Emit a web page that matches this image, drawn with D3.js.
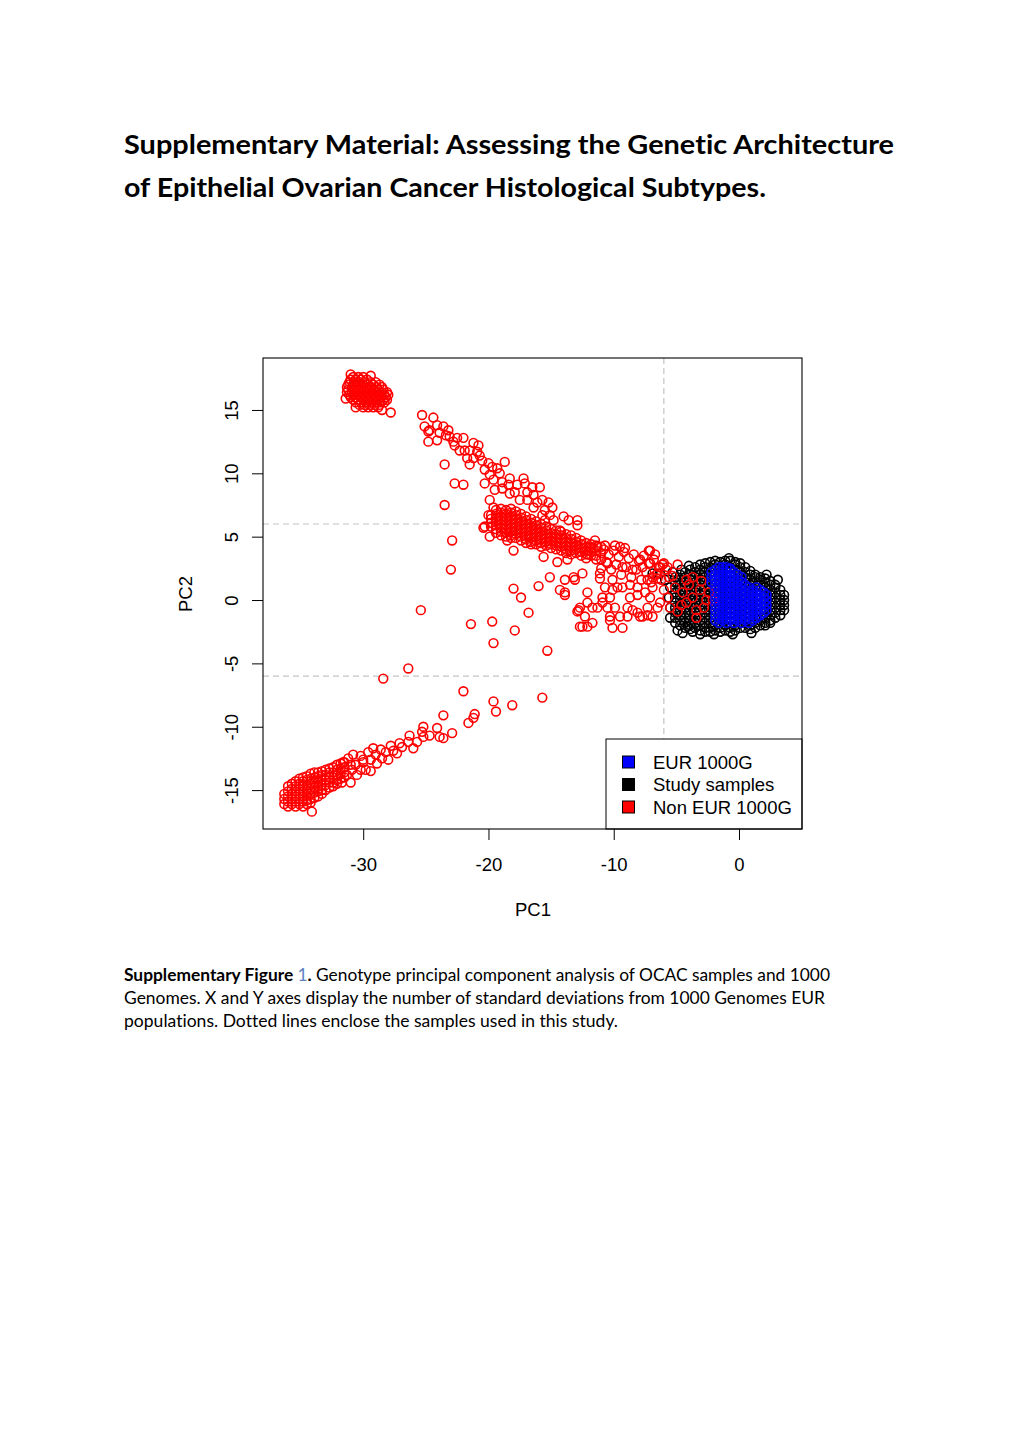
<!DOCTYPE html>
<html>
<head>
<meta charset="utf-8">
<script src="https://cdn.jsdelivr.net/npm/d3@7"></script>
<style>
  html, body { margin: 0; padding: 0; background: #fff; }
  svg { display: block; }
  text { font-variant-ligatures: none; }
</style>
</head>
<body>
<svg id="page" width="1020" height="1443"></svg>
<script>
// ---------------- data ----------------
const xTicks = [-30, -20, -10, 0];
const yTicks = [-15, -10, -5, 0, 5, 10, 15];
const pc1Cutoffs = [-6];
const pc2Cutoffs = [-6, 6];
const legendLabels = ["EUR 1000G", "Study samples", "Non EUR 1000G"];
const legendColors = ["#0000ff", "#000000", "#ff0000"];

// Non EUR 1000G : top-left dense blob, rows [PC2, [PC1...]]
const nonEurTopRows = [
  [17.6, [-30.8, -30.4, -30.0]],
  [17.4, [-31.0, -30.6, -30.2, -29.7]],
  [17.2, [-31.1, -30.7, -30.3, -29.9, -29.4, -29.0]],
  [17.0, [-31.2, -30.8, -30.4, -30.0, -29.6, -29.2, -28.7]],
  [16.8, [-31.3, -30.9, -30.5, -30.1, -29.7, -29.3, -28.9, -28.5]],
  [16.6, [-31.2, -30.8, -30.4, -30.0, -29.6, -29.2, -28.8, -28.4]],
  [16.4, [-31.3, -30.9, -30.5, -30.1, -29.7, -29.3, -28.9, -28.5, -28.1]],
  [16.2, [-31.1, -30.7, -30.3, -29.9, -29.5, -29.1, -28.7, -28.3, -28.0]],
  [16.0, [-31.0, -30.6, -30.2, -29.8, -29.4, -29.0, -28.6, -28.2]],
  [15.8, [-30.8, -30.4, -30.0, -29.6, -29.2, -28.8, -28.4, -28.1]],
  [15.6, [-30.6, -30.2, -29.8, -29.4, -29.0, -28.6, -28.3]],
  [15.4, [-30.3, -29.9, -29.5, -29.1, -28.7]],
  [15.2, [-30.0, -29.6, -29.2, -28.8]]
];
const nonEurTopExtra = [[-27.8, 14.8], [-28.5, 15.0], [-31.4, 15.9], [-30.6, 15.2], [-31.0, 17.8], [-29.4, 17.7]];

// Non EUR 1000G : upper arm and isolated points
const nonEurUpperArm = [
  [-25.3, 14.6], [-24.4, 14.4], [-25.1, 13.7], [-24.8, 13.3], [-24.1, 13.8], [-23.6, 13.7], [-23.2, 13.4],
  [-23.9, 13.2], [-24.8, 12.5], [-24.1, 12.6], [-23.1, 12.9], [-22.8, 12.5], [-22.5, 12.8], [-22.0, 12.8],
  [-22.3, 11.8], [-21.9, 11.8], [-21.2, 12.4], [-20.8, 12.2], [-20.9, 11.7], [-20.7, 11.4], [-21.7, 11.2],
  [-21.2, 11.2], [-21.5, 10.7], [-20.5, 11.0], [-20.0, 10.8], [-19.7, 10.5], [-18.7, 10.9], [-19.3, 10.4],
  [-19.9, 9.9], [-19.1, 10.0], [-19.6, 9.5], [-18.9, 9.3], [-18.3, 9.6], [-17.7, 9.1], [-17.2, 9.6],
  [-17.1, 9.2], [-16.5, 8.9], [-15.9, 8.9], [-16.9, 8.5], [-16.4, 8.3], [-15.7, 7.9], [-15.2, 7.7],
  [-14.9, 7.3], [-15.5, 7.1], [-15.7, 6.7], [-16.4, 7.3], [-17.5, 7.9], [-18.3, 8.4], [-18.9, 8.8],
  [-19.9, 7.9], [-19.6, 7.3], [-20.0, 6.7], [-24.7, 13.4], [-23.4, 13.0], [-22.7, 12.2], [-21.5, 11.8],
  [-20.3, 10.3], [-19.5, 8.7], [-17.9, 8.5], [-18.4, 9.1], [-16.9, 7.9], [-16.1, 7.7], [-15.1, 6.7],
  [-14.8, 6.3], [-15.5, 6.3],
  [-23.5, 10.7], [-22.7, 9.2], [-22.0, 9.1], [-23.5, 7.5], [-22.9, 4.7], [-20.4, 5.7], [-20.3, 9.2],
  [-23.0, 2.4], [-25.4, -0.8]
];

// Non EUR 1000G : dense middle cluster, columns [PC1, [PC2...]]
const nonEurMidCols = [
  [-19.8, [6.7, 6.4, 6.1, 5.8]],
  [-19.4, [7.1, 6.8, 6.5, 6.2, 5.9, 5.6, 5.3]],
  [-19.0, [7.2, 6.9, 6.6, 6.3, 6.0, 5.7, 5.4, 5.1]],
  [-18.6, [7.1, 6.8, 6.5, 6.2, 5.9, 5.6, 5.3, 5.0]],
  [-18.2, [7.2, 6.9, 6.6, 6.3, 6.0, 5.7, 5.4, 5.1, 4.9]],
  [-17.8, [7.0, 6.7, 6.4, 6.1, 5.8, 5.5, 5.2, 4.9]],
  [-17.4, [6.8, 6.5, 6.2, 5.9, 5.6, 5.3, 5.0, 4.7]],
  [-17.0, [6.6, 6.3, 6.0, 5.7, 5.4, 5.1, 4.8, 4.5]],
  [-16.6, [6.4, 6.1, 5.8, 5.5, 5.2, 4.9, 4.6, 4.4]],
  [-16.2, [6.2, 5.9, 5.6, 5.3, 5.0, 4.7, 4.4]],
  [-15.8, [6.0, 5.7, 5.4, 5.1, 4.8, 4.5, 4.2]],
  [-15.4, [5.8, 5.5, 5.2, 4.9, 4.6, 4.3]],
  [-15.0, [5.6, 5.3, 5.0, 4.7, 4.4, 4.1]],
  [-14.6, [5.5, 5.2, 4.9, 4.6, 4.3, 4.0]],
  [-14.2, [5.4, 5.1, 4.8, 4.5, 4.2, 3.9]],
  [-13.8, [5.2, 4.9, 4.6, 4.3, 4.0, 3.7]],
  [-13.4, [5.1, 4.8, 4.5, 4.2, 3.9, 3.6]],
  [-13.0, [4.9, 4.6, 4.3, 4.0, 3.7]],
  [-12.6, [4.7, 4.4, 4.1, 3.8, 3.5]],
  [-12.2, [4.5, 4.2, 3.9, 3.6, 3.3]],
  [-11.8, [4.4, 4.1, 3.8, 3.5]],
  [-11.4, [4.3, 3.9, 3.5, 3.2]],
  [-11.0, [4.2, 3.7, 3.2]]
];

// Non EUR 1000G : points around the middle cluster, the band and the scatter below it
const nonEurMidScatter = [
  [-20.3, 5.8], [-19.9, 5.0], [-18.5, 4.7], [-18.0, 3.9], [-15.6, 3.4], [-14.5, 3.0], [-13.7, 3.2],
  [-12.1, 3.6], [-14.0, 6.6], [-13.6, 6.3], [-12.9, 5.9], [-12.9, 6.3], [-14.3, 5.5], [-11.5, 4.7],
  [-10.7, 4.3], [-9.9, 4.3], [-9.1, 4.1], [-11.9, 4.2],
  [-10.8, 4.0], [-10.4, 3.6], [-10.0, 3.9], [-9.6, 3.4], [-9.2, 3.8], [-8.8, 3.3], [-8.4, 3.6],
  [-8.0, 3.1], [-7.6, 3.5], [-7.2, 2.9], [-6.8, 3.2], [-6.4, 2.6], [-6.0, 2.9], [-10.6, 3.0],
  [-9.8, 2.8], [-9.0, 2.6], [-8.2, 2.4], [-7.4, 2.2], [-6.6, 2.0], [-10.2, 2.4], [-9.4, 2.0],
  [-8.6, 1.8], [-7.8, 1.6], [-7.0, 1.4], [-11.0, 2.5], [-7.1, 3.9], [-7.9, 3.2], [-9.5, 4.2],
  [-11.3, 4.2], [-5.6, 1.8], [-5.8, 2.4], [-6.2, 1.6], [-7.2, 3.9], [-6.7, 3.6],
  [-13.2, 1.8], [-14.3, 0.8], [-13.9, 0.4], [-13.1, 1.6], [-12.5, 2.1], [-12.1, 0.6], [-12.7, -0.6],
  [-12.9, -0.9], [-12.5, -2.1], [-12.1, -2.1], [-11.7, -1.8], [-11.3, -0.6], [-10.9, 0.2], [-10.5, -0.6],
  [-10.3, -1.6], [-10.1, -2.2], [-9.5, -1.3], [-9.3, -2.2], [-8.9, -0.6], [-8.7, 0.2], [-8.1, -1.0],
  [-7.7, -1.3], [-7.3, -0.6], [-7.1, 0.2], [-6.9, 1.0], [-8.1, 1.0], [-9.3, 1.0], [-10.1, 0.8],
  [-10.1, 1.6], [-11.1, 2.1], [-10.5, 2.9], [-9.3, 2.6], [-8.5, 2.4], [-7.7, 2.6], [-7.3, 1.6],
  [-6.5, 2.1], [-13.9, 1.6], [-13.9, 0.6], [-12.1, -0.2], [-11.7, -0.6], [-12.8, -0.8], [-12.3, -1.3],
  [-12.7, -2.1], [-10.9, -0.2], [-11.1, 1.7], [-10.7, 1.0], [-10.3, 0.2], [-9.9, -0.6], [-10.3, -1.3],
  [-8.9, -1.3], [-8.5, -0.8], [-7.9, -1.3], [-7.3, -1.2], [-9.7, 1.0], [-8.7, 1.2],
  [-8.1, 0.4], [-7.5, 0.6], [-6.9, 1.8], [-7.1, 2.9], [-6.3, 2.6], [-5.7, 2.6],
  [-18.0, 0.9], [-17.4, 0.2], [-16.0, 1.1], [-15.1, 1.8], [-16.8, -1.0], [-19.7, -1.7], [-17.9, -2.4],
  [-21.4, -1.9], [-19.6, -3.4], [-15.3, -4.0]
];

// Non EUR 1000G : points overlapping the study-sample cluster
const nonEurInCluster = [
  [-3.7, 1.8], [-3.1, 0.8], [-3.7, 0.2], [-4.2, -0.2], [-3.4, -0.8], [-3.4, -1.4], [-2.6, 0.0],
  [-2.1, 0.0], [-4.5, 0.6], [-5.1, 1.0], [-5.7, 0.2], [-5.5, -0.6], [-4.9, -0.9], [-6.5, 1.7],
  [-6.1, 2.8], [-4.9, 2.8], [-4.2, 1.6], [-6.5, -0.6], [-6.9, -1.3], [-2.8, -0.6], [-4.0, 1.2],
  [-3.0, 1.5], [-5.3, 1.9], [-4.6, -0.4], [-2.4, 0.6], [-6.0, 0.8], [-6.3, -0.2]
];

// Non EUR 1000G : lower-left dense blob, columns [PC1, [PC2...]]
const nonEurLowCols = [
  [-36.3, [-15.3, -15.7, -16.1]],
  [-36.0, [-14.7, -15.1, -15.5, -15.9, -16.3]],
  [-35.7, [-14.5, -14.9, -15.3, -15.7, -16.1]],
  [-35.4, [-14.3, -14.7, -15.1, -15.5, -15.9, -16.3]],
  [-35.1, [-14.1, -14.5, -14.9, -15.3, -15.7, -16.1]],
  [-34.8, [-14.0, -14.3, -14.7, -15.1, -15.5, -15.9, -16.3]],
  [-34.5, [-13.9, -14.2, -14.6, -15.0, -15.4, -15.8, -16.1]],
  [-34.2, [-13.7, -14.1, -14.5, -14.9, -15.3, -15.7, -16.0]],
  [-33.9, [-13.6, -14.0, -14.4, -14.8, -15.2, -15.6]],
  [-33.6, [-13.6, -13.9, -14.3, -14.7, -15.1, -15.5]],
  [-33.3, [-13.5, -13.8, -14.2, -14.6, -15.0, -15.3]],
  [-33.0, [-13.4, -13.8, -14.2, -14.6, -15.0]],
  [-32.7, [-13.3, -13.6, -14.0, -14.4, -14.8]],
  [-32.4, [-13.2, -13.6, -14.0, -14.4, -14.7]],
  [-32.1, [-13.0, -13.4, -13.8, -14.2, -14.5]],
  [-31.8, [-12.9, -13.3, -13.7, -14.1]],
  [-31.5, [-12.8, -13.2, -13.6, -14.0]]
];

// Non EUR 1000G : lower arm and isolated points
const nonEurLowerArm = [
  [-31.2, -12.5], [-30.9, -13.4], [-30.8, -12.2], [-30.6, -13.0], [-30.5, -13.8], [-30.2, -12.3],
  [-30.0, -12.8], [-29.8, -13.4], [-29.6, -12.0], [-29.4, -12.6], [-29.4, -13.5], [-29.2, -11.7],
  [-29.0, -12.2], [-28.9, -12.9], [-28.6, -11.8], [-28.5, -12.5], [-28.2, -12.0], [-28.0, -12.6],
  [-27.8, -11.5], [-27.6, -11.9], [-27.3, -12.1], [-27.1, -11.3], [-26.9, -11.6], [-26.4, -11.2],
  [-26.0, -11.7], [-26.3, -10.7], [-25.7, -11.2], [-25.3, -10.4], [-25.2, -10.0], [-25.2, -10.8],
  [-24.7, -10.7], [-24.1, -10.1], [-23.9, -10.8], [-23.6, -10.9], [-22.9, -10.5], [-23.6, -9.1],
  [-21.6, -9.7], [-21.2, -9.3], [-21.1, -9.0], [-22.0, -7.2], [-19.6, -8.0], [-19.4, -8.8],
  [-18.1, -8.3], [-15.7, -7.7], [-26.4, -5.4], [-28.4, -6.2], [-34.1, -16.7], [-31.6, -12.8],
  [-31.3, -13.8], [-31.7, -14.4], [-31.0, -14.4], [-32.1, -13.8], [-30.2, -13.4], [-31.0, -13.0],
  [-30.0, -12.6]
];

// Study samples, columns [PC1, [PC2...]]
const studyCols = [
  [-5.1, [1.8, 1.4, 1.0, 0.6, 0.2, -0.2, -0.6, -1.0, -1.4, -1.8]],
  [-4.7, [2.0, 1.6, 1.2, 0.8, 0.4, 0.0, -0.4, -0.8, -1.2, -1.6, -2.0]],
  [-4.3, [2.2, 1.8, 1.4, 1.0, 0.6, 0.2, -0.2, -0.6, -1.0, -1.4, -1.8, -2.2]],
  [-3.9, [2.4, 2.0, 1.6, 1.2, 0.8, 0.4, 0.0, -0.4, -0.8, -1.2, -1.6, -2.0, -2.3]],
  [-3.5, [2.6, 2.2, 1.8, 1.4, 1.0, 0.6, 0.2, -0.2, -0.6, -1.0, -1.4, -1.8, -2.2]],
  [-3.1, [2.8, 2.4, 2.0, 1.6, 1.2, 0.8, 0.4, 0.0, -0.4, -0.8, -1.2, -1.6, -2.0, -2.4]],
  [-2.7, [2.9, 2.6, 2.2, 1.8, 1.4, 1.0, 0.6, 0.2, -0.2, -0.6, -1.0, -1.4, -1.8, -2.2, -2.5]],
  [-2.3, [3.0, 2.6, 2.2, 1.8, 1.4, 1.0, 0.6, 0.2, -0.2, -0.6, -1.0, -1.4, -1.8, -2.2, -2.5]],
  [-1.9, [3.1, 2.8, 2.4, 2.0, 1.6, 1.2, 0.8, 0.4, 0.0, -0.4, -0.8, -1.2, -1.6, -2.0, -2.4]],
  [-1.5, [3.0, 2.6, 2.2, 1.8, 1.4, 1.0, 0.6, 0.2, -0.2, -0.6, -1.0, -1.4, -1.8, -2.2, -2.5]],
  [-1.1, [3.1, 2.8, 2.4, 2.0, 1.6, 1.2, 0.8, 0.4, 0.0, -0.4, -0.8, -1.2, -1.6, -2.0, -2.4]],
  [-0.7, [3.1, 2.6, 2.2, 1.8, 1.4, 1.0, 0.6, 0.2, -0.2, -0.6, -1.0, -1.4, -1.8, -2.2, -2.5]],
  [-0.3, [3.0, 2.8, 2.4, 2.0, 1.6, 1.2, 0.8, 0.4, 0.0, -0.4, -0.8, -1.2, -1.6, -2.0, -2.4]],
  [0.1, [2.9, 2.6, 2.2, 1.8, 1.4, 1.0, 0.6, 0.2, -0.2, -0.6, -1.0, -1.4, -1.8, -2.2]],
  [0.5, [2.6, 2.2, 1.8, 1.4, 1.0, 0.6, 0.2, -0.2, -0.6, -1.0, -1.4, -1.8, -2.2]],
  [0.9, [2.3, 2.0, 1.6, 1.2, 0.8, 0.4, 0.0, -0.4, -0.8, -1.2, -1.6, -2.0, -2.3]],
  [1.3, [2.0, 1.8, 1.4, 1.0, 0.6, 0.2, -0.2, -0.6, -1.0, -1.4, -1.8, -2.2]],
  [1.7, [1.8, 1.6, 1.2, 0.8, 0.4, 0.0, -0.4, -0.8, -1.2, -1.6, -2.0]],
  [2.1, [1.7, 1.4, 1.0, 0.6, 0.2, -0.2, -0.6, -1.0, -1.4, -1.8, -2.0]],
  [2.5, [1.5, 1.2, 0.8, 0.4, 0.0, -0.4, -0.8, -1.2, -1.6, -1.8]],
  [2.9, [1.2, 1.0, 0.6, 0.2, -0.2, -0.6, -1.0, -1.4]],
  [3.3, [0.8, 0.4, 0.0, -0.4, -0.8, -1.2]],
  [3.6, [0.4, 0.0, -0.4, -0.8]]
];
const studyExtra = [
  [-5.5, 1.0], [-5.5, -0.6], [-5.6, 0.2], [-5.9, 1.6], [-6.3, 2.1], [-6.9, 2.1], [-5.5, -1.4],
  [-4.9, -2.4], [-4.5, -2.6], [-4.1, -2.1], [-3.7, -2.5], [-3.1, -2.7], [-5.3, 2.2], [-4.6, 2.4],
  [-4.0, 2.7], [-0.8, 3.3], [2.2, 2.0], [3.1, 1.6], [-2.0, -2.7], [-0.5, -2.7], [1.0, -2.6]
];

// EUR 1000G, columns [PC1, [PC2...]]
const eurCols = [
  [-2.2, [2.2, 1.8, 1.4]],
  [-1.9, [2.4, 2.0, 1.6, 1.2, 0.8, 0.4, 0.0, -0.4, -0.8, -1.2, -1.6]],
  [-1.6, [2.6, 2.2, 1.8, 1.4, 1.0, 0.6, 0.2, -0.2, -0.6, -1.0, -1.4, -1.8]],
  [-1.3, [2.6, 2.4, 2.0, 1.6, 1.2, 0.8, 0.4, 0.0, -0.4, -0.8, -1.2, -1.6]],
  [-1.0, [2.6, 2.2, 1.8, 1.4, 1.0, 0.6, 0.2, -0.2, -0.6, -1.0, -1.4, -1.8]],
  [-0.7, [2.5, 2.4, 2.0, 1.6, 1.2, 0.8, 0.4, 0.0, -0.4, -0.8, -1.2, -1.6]],
  [-0.4, [2.2, 1.8, 1.4, 1.0, 0.6, 0.2, -0.2, -0.6, -1.0, -1.4, -1.8]],
  [-0.1, [2.0, 1.6, 1.2, 0.8, 0.4, 0.0, -0.4, -0.8, -1.2, -1.6]],
  [0.2, [1.8, 1.4, 1.0, 0.6, 0.2, -0.2, -0.6, -1.0, -1.4, -1.8]],
  [0.5, [1.2, 0.8, 0.4, 0.0, -0.4, -0.8, -1.2, -1.6]],
  [0.8, [1.0, 0.6, 0.2, -0.2, -0.6, -1.0, -1.4, -1.8]],
  [1.1, [0.8, 0.4, 0.0, -0.4, -0.8, -1.2, -1.6]],
  [1.4, [1.0, 0.6, 0.2, -0.2, -0.6, -1.0, -1.4]],
  [1.7, [0.8, 0.4, 0.0, -0.4, -0.8, -1.2]],
  [2.0, [0.6, 0.2, -0.2, -0.6, -1.0]],
  [2.2, [0.4, 0.0, -0.4, -0.8]]
];

// ---------------- build point lists ----------------
const rowsToPoints = rows => rows.flatMap(([y, xs]) => xs.map(x => [x, y]));
const colsToPoints = cols => cols.flatMap(([x, ys]) => ys.map(y => [x, y]));

const studyPoints = colsToPoints(studyCols).concat(studyExtra);
const nonEurPoints = rowsToPoints(nonEurTopRows)
  .concat(nonEurTopExtra, nonEurUpperArm, colsToPoints(nonEurMidCols), nonEurMidScatter,
          nonEurInCluster, colsToPoints(nonEurLowCols), nonEurLowerArm);
const eurPoints = colsToPoints(eurCols);

// ---------------- drawing ----------------
const svg = d3.select("#page");
svg.append("rect").attr("width", 1020).attr("height", 1443).attr("fill", "#fff");

const plot = { left: 263, right: 802, top: 358, bottom: 829 };
const x = d3.scaleLinear().domain([-38, 5.03]).range([plot.left, plot.right]);
const y = d3.scaleLinear().domain([-18.07, 19.1]).range([plot.bottom, plot.top]);

const chartFont = "'Liberation Sans', Arial, Helvetica, sans-serif";
const hyphenFormat = d => String(d);

// Title
const titleFont = "Lato, 'Noto Sans', sans-serif";
const titleLines = ["Supplementary Material: Assessing the Genetic Architecture",
                    "of Epithelial Ovarian Cancer Histological Subtypes."];
const titleWidths = [770, 642];
titleLines.forEach((t, i) => {
  svg.append("text")
    .attr("x", 124).attr("y", 154 + i * 43)
    .attr("font-family", titleFont).attr("font-weight", "bold")
    .attr("font-size", 27.5).attr("fill", "#000")
    .attr("textLength", titleWidths[i]).attr("lengthAdjust", "spacingAndGlyphs")
    .text(t);
});

// dashed cut-off lines
const gLines = svg.append("g").attr("stroke", "#c4c4c4").attr("stroke-width", 1.2)
  .attr("stroke-dasharray", "6,4").attr("fill", "none");
pc2Cutoffs.forEach(v => {
  gLines.append("line").attr("x1", plot.left).attr("x2", plot.right)
    .attr("y1", y(v)).attr("y2", y(v));
});
pc1Cutoffs.forEach(v => {
  gLines.append("line").attr("x1", x(v)).attr("x2", x(v))
    .attr("y1", plot.top).attr("y2", plot.bottom);
});

// points
const clip = svg.append("defs").append("clipPath").attr("id", "plotclip");
clip.append("rect").attr("x", plot.left).attr("y", plot.top)
  .attr("width", plot.right - plot.left).attr("height", plot.bottom - plot.top);

const gPts = svg.append("g").attr("clip-path", "url(#plotclip)");
function drawPoints(pts, color) {
  gPts.append("g").selectAll("circle").data(pts).join("circle")
    .attr("cx", d => x(d[0])).attr("cy", d => y(d[1]))
    .attr("r", 4.4).attr("fill", "none")
    .attr("stroke", color).attr("stroke-width", 1.6);
}
drawPoints(studyPoints, legendColors[1]);
drawPoints(nonEurPoints, legendColors[2]);
drawPoints(eurPoints, legendColors[0]);

// axes
const xAxis = svg.append("g").attr("transform", `translate(0,${plot.bottom})`)
  .call(d3.axisBottom(x).tickValues(xTicks).tickSize(11).tickFormat(hyphenFormat));
xAxis.select(".domain").remove();
xAxis.selectAll("line").attr("stroke", "#000");
xAxis.selectAll("text").attr("y", 42).attr("dy", 0)
  .attr("font-family", chartFont).attr("font-size", 18.5).attr("fill", "#000");

const yAxis = svg.append("g").attr("transform", `translate(${plot.left},0)`)
  .call(d3.axisLeft(y).tickValues(yTicks).tickSize(11).tickFormat(hyphenFormat));
yAxis.select(".domain").remove();
yAxis.selectAll("line").attr("stroke", "#000");
yAxis.selectAll("text")
  .attr("x", 0).attr("y", -25).attr("dy", 0)
  .attr("transform", "rotate(-90)")
  .attr("text-anchor", "middle")
  .attr("font-family", chartFont).attr("font-size", 18.5).attr("fill", "#000");

// axis titles
svg.append("text").attr("x", 533).attr("y", 916).attr("text-anchor", "middle")
  .attr("font-family", chartFont).attr("font-size", 18.5).text("PC1");
svg.append("text").attr("transform", "translate(192,594) rotate(-90)")
  .attr("text-anchor", "middle")
  .attr("font-family", chartFont).attr("font-size", 18.5).text("PC2");

// legend
const lg = svg.append("g");
lg.append("rect").attr("x", 606).attr("y", 739).attr("width", 196).attr("height", 90)
  .attr("fill", "#fff").attr("stroke", "#000").attr("stroke-width", 1);
legendLabels.forEach((lab, i) => {
  const cy = 762 + i * 22.5;
  lg.append("rect").attr("x", 622.5).attr("y", cy - 6).attr("width", 12).attr("height", 12)
    .attr("fill", legendColors[i]).attr("stroke", "#000").attr("stroke-width", 1);
  lg.append("text").attr("x", 653).attr("y", cy + 6.6)
    .attr("font-family", chartFont).attr("font-size", 18.5).attr("fill", "#000").text(lab);
});

// plot box
svg.append("rect").attr("x", plot.left).attr("y", plot.top)
  .attr("width", plot.right - plot.left).attr("height", plot.bottom - plot.top)
  .attr("fill", "none").attr("stroke", "#000").attr("stroke-width", 1.1);

// caption
const capFont = "Lato, 'Noto Sans', sans-serif";
const cap1 = svg.append("text").attr("x", 124).attr("y", 981)
  .attr("font-family", capFont).attr("font-size", 16.5).attr("fill", "#000")
  .attr("textLength", 706).attr("lengthAdjust", "spacingAndGlyphs");
cap1.append("tspan").attr("font-weight", "bold").text("Supplementary Figure ");
cap1.append("tspan").attr("fill", "#5b7fc1").text("1");
cap1.append("tspan").attr("font-weight", "bold").text(".");
cap1.append("tspan").text(" Genotype principal component analysis of OCAC samples and 1000");
const capLines = [
  ["Genomes. X and Y axes display the number of standard deviations from 1000 Genomes EUR", 701],
  ["populations. Dotted lines enclose the samples used in this study.", 494]
];
capLines.forEach(([t, w], i) => {
  svg.append("text").attr("x", 124).attr("y", 1004 + i * 23)
    .attr("font-family", capFont).attr("font-size", 16.5).attr("fill", "#000")
    .attr("textLength", w).attr("lengthAdjust", "spacingAndGlyphs").text(t);
});
</script>
</body>
</html>
